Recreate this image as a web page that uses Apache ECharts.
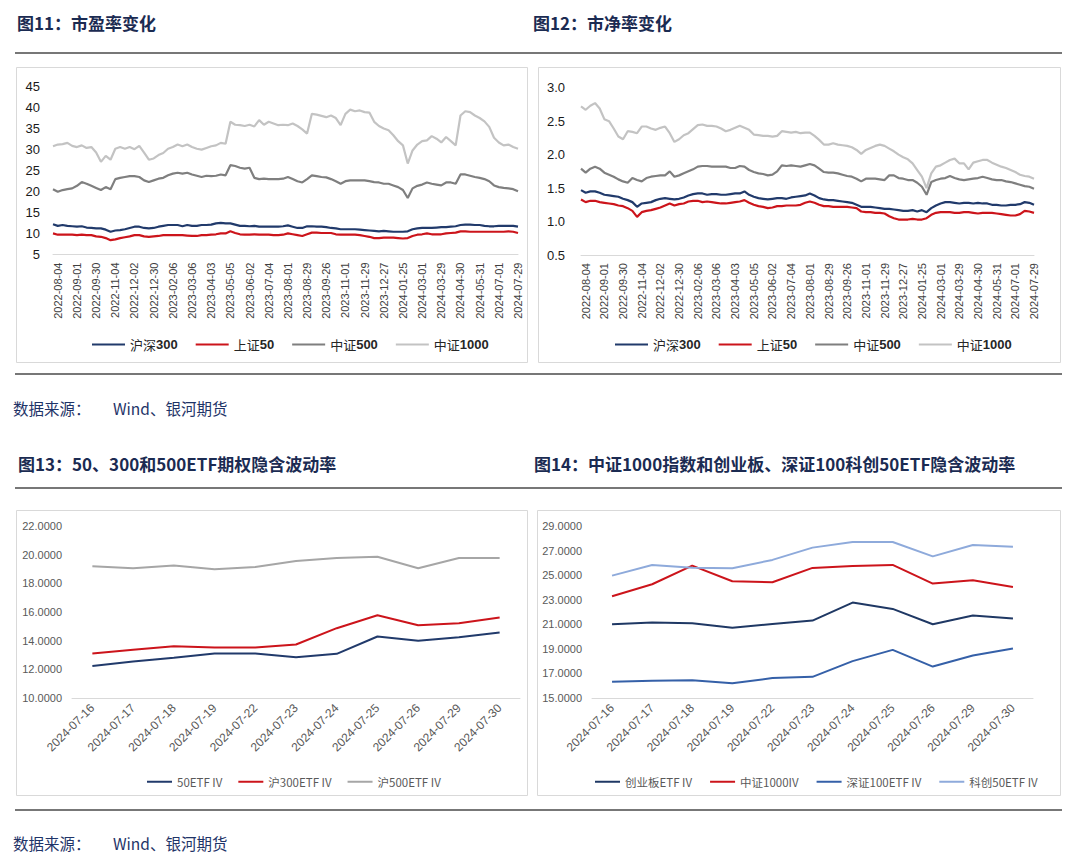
<!DOCTYPE html>
<html><head><meta charset="utf-8">
<script src="https://cdn.jsdelivr.net/npm/echarts/dist/echarts.min.js"></script>
<style>html,body{margin:0;padding:0;background:#fff}#c{width:1080px;height:855px}</style>
</head><body><div id="c"></div>
<script>
// ---------- data: PE / PB (sampled every 5 trading days) ----------
const dateLabels = ['2022-08-04','2022-09-01','2022-09-30','2022-11-04','2022-12-02','2022-12-30','2023-02-06','2023-03-06','2023-04-03','2023-05-05','2023-06-02','2023-07-04','2023-08-01','2023-08-29','2023-09-26','2023-11-01','2023-11-29','2023-12-27','2024-01-25','2024-03-01','2024-03-29','2024-04-30','2024-05-31','2024-07-01','2024-07-29'];

const peHS300 = [12.2,11.8,12.0,11.8,11.7,11.6,11.7,11.4,11.3,11.2, 11.2,10.9,10.4,10.7,10.8,11.0,11.3,11.6,11.6,11.3, 11.2,11.3,11.6,11.8,12.0,12.0,12.0,11.7,12.0,11.8, 11.8,12.0,12.0,12.1,12.4,12.5,12.4,12.4,12.1,11.8, 11.8,11.7,11.8,11.6,11.6,11.6,11.6,11.6,11.7,11.9, 11.6,11.3,11.3,11.7,11.7,11.6,11.6,11.5,11.3,11.2, 11.0,11.0,11.0,11.0,10.9,10.8,10.7,10.6,10.5,10.6, 10.5,10.4,10.4,10.4,10.5,11.0,11.2,11.3,11.3,11.3, 11.4,11.5,11.5,11.6,11.7,12.0,12.1,12.1,12.0,12.0, 11.8,11.7,11.7,11.8,11.8,11.8,11.8,11.6];
const peSZ50 = [10.0,9.7,9.7,9.7,9.7,9.6,9.7,9.6,9.6,9.3, 9.2,8.9,8.4,8.6,8.9,9.1,9.3,9.6,9.6,9.3, 9.2,9.3,9.4,9.6,9.6,9.6,9.6,9.6,9.5,9.4, 9.4,9.6,9.6,9.7,9.8,10.0,10.0,10.5,10.1,9.8, 9.7,9.7,9.8,9.7,9.7,9.7,9.6,9.6,9.7,10.0, 9.8,9.6,9.4,9.8,10.2,10.2,10.1,10.1,10.1,9.8, 9.7,9.7,9.7,9.7,9.6,9.4,9.2,8.9,8.9,9.0, 9.0,9.0,8.9,8.8,8.9,9.4,9.7,9.8,10.0,9.8, 9.8,9.8,10.0,10.1,10.2,10.5,10.5,10.4,10.4,10.4, 10.4,10.4,10.4,10.4,10.4,10.5,10.4,10.1];
const peZZ500 = [20.5,19.9,20.3,20.5,20.7,21.3,22.2,21.8,21.3,20.8, 20.3,21.0,20.5,22.9,23.2,23.4,23.6,23.6,23.4,22.6, 22.2,22.6,23.0,23.2,23.8,24.2,24.4,24.2,24.4,24.0, 23.7,23.4,23.7,23.6,23.7,24.0,23.8,26.2,26.0,25.6, 25.4,25.6,23.2,22.9,23.0,22.9,22.9,22.9,23.0,23.4, 22.9,22.4,22.1,22.9,23.8,23.6,23.4,23.3,22.9,22.4, 21.8,22.4,22.6,22.6,22.6,22.6,22.4,22.2,22.1,21.8, 21.8,21.4,21.0,20.3,18.4,20.7,21.3,21.6,22.1,21.8, 21.6,21.4,22.1,22.1,21.8,24.0,24.0,23.7,23.4,23.2, 22.9,22.4,21.4,21.0,20.8,20.7,20.5,20.0];
const peZZ1000 = [30.7,31.1,31.2,31.5,30.8,30.5,30.9,30.3,30.5,29.2, 27.0,28.4,27.5,30.1,30.5,30.1,30.5,30.0,30.8,29.2, 27.5,27.8,28.6,29.1,30.1,30.5,31.1,30.7,31.1,30.5, 30.1,29.9,30.3,30.7,30.9,31.5,31.3,36.5,35.8,35.7, 35.5,35.8,35.4,36.9,35.8,36.5,36.1,35.7,35.8,35.7, 36.1,35.5,34.7,33.7,38.4,38.2,37.9,37.6,38.0,37.4, 35.7,38.4,39.4,39.0,39.2,38.8,38.7,36.5,35.5,34.9, 34.5,33.3,31.9,30.9,26.6,29.7,31.1,31.9,32.1,33.1, 32.5,31.6,32.9,31.9,30.9,38.0,39.0,38.8,38.0,37.4, 36.6,35.3,32.7,31.6,30.9,31.1,30.5,30.1];

const pbHS300 = [1.47,1.43,1.45,1.45,1.43,1.40,1.39,1.38,1.37,1.34, 1.32,1.29,1.22,1.27,1.28,1.29,1.32,1.34,1.35,1.34, 1.33,1.34,1.36,1.39,1.41,1.42,1.42,1.40,1.41,1.41, 1.40,1.40,1.41,1.42,1.42,1.45,1.40,1.37,1.35,1.34, 1.33,1.34,1.35,1.35,1.34,1.36,1.37,1.38,1.39,1.42, 1.39,1.35,1.33,1.32,1.32,1.31,1.30,1.29,1.28,1.25, 1.22,1.22,1.22,1.21,1.20,1.19,1.19,1.18,1.17,1.16, 1.16,1.17,1.15,1.17,1.14,1.20,1.24,1.27,1.29,1.29, 1.28,1.27,1.28,1.28,1.27,1.28,1.27,1.27,1.25,1.25, 1.24,1.24,1.25,1.25,1.26,1.29,1.28,1.25];
const pbSZ50 = [1.33,1.29,1.31,1.31,1.29,1.28,1.27,1.26,1.24,1.23, 1.20,1.16,1.07,1.14,1.16,1.17,1.19,1.21,1.24,1.27, 1.24,1.26,1.27,1.30,1.31,1.31,1.29,1.30,1.29,1.28, 1.27,1.27,1.28,1.29,1.30,1.32,1.28,1.25,1.23,1.22, 1.20,1.21,1.23,1.23,1.24,1.24,1.24,1.25,1.28,1.30, 1.28,1.25,1.23,1.23,1.22,1.22,1.22,1.22,1.21,1.20, 1.15,1.14,1.14,1.13,1.13,1.12,1.08,1.05,1.03,1.03, 1.03,1.04,1.03,1.03,1.05,1.10,1.13,1.14,1.14,1.14, 1.13,1.13,1.14,1.14,1.13,1.12,1.13,1.13,1.13,1.12, 1.11,1.10,1.09,1.09,1.11,1.16,1.15,1.13];
const pbZZ500 = [1.79,1.73,1.79,1.82,1.79,1.73,1.70,1.67,1.63,1.60, 1.58,1.65,1.62,1.60,1.65,1.67,1.68,1.69,1.69,1.75, 1.67,1.69,1.72,1.75,1.78,1.82,1.83,1.83,1.82,1.82, 1.82,1.82,1.80,1.80,1.83,1.82,1.77,1.74,1.72,1.71, 1.69,1.70,1.75,1.84,1.83,1.84,1.83,1.82,1.84,1.86, 1.84,1.79,1.74,1.73,1.73,1.72,1.70,1.68,1.67,1.64, 1.60,1.64,1.64,1.64,1.63,1.62,1.69,1.69,1.65,1.64, 1.62,1.62,1.58,1.52,1.40,1.59,1.62,1.64,1.65,1.68, 1.65,1.63,1.62,1.63,1.64,1.65,1.67,1.65,1.63,1.62, 1.62,1.60,1.59,1.57,1.55,1.53,1.52,1.49];
const pbZZ1000 = [2.72,2.67,2.73,2.77,2.69,2.53,2.50,2.39,2.27,2.23, 2.35,2.34,2.32,2.42,2.42,2.39,2.37,2.40,2.42,2.32, 2.19,2.23,2.29,2.32,2.38,2.44,2.45,2.43,2.43,2.42, 2.39,2.35,2.37,2.40,2.43,2.40,2.37,2.30,2.29,2.28, 2.28,2.27,2.28,2.35,2.34,2.33,2.34,2.32,2.33,2.33, 2.28,2.22,2.15,2.15,2.17,2.15,2.14,2.13,2.11,2.07, 2.01,2.07,2.10,2.13,2.15,2.13,2.09,2.05,2.00,1.96, 1.93,1.87,1.77,1.67,1.50,1.72,1.82,1.84,1.88,1.92, 1.94,1.87,1.87,1.78,1.88,1.90,1.92,1.92,1.88,1.85, 1.82,1.80,1.77,1.74,1.70,1.68,1.67,1.64];

// ---------- data: implied volatility ----------
const ivDates = ['2024-07-16','2024-07-17','2024-07-18','2024-07-19','2024-07-22','2024-07-23','2024-07-24','2024-07-25','2024-07-26','2024-07-29','2024-07-30'];
const iv50ETF = [12.24,12.54,12.80,13.10,13.10,12.85,13.08,14.29,14.00,14.24,14.57];
const iv300ETF = [13.10,13.36,13.61,13.52,13.52,13.73,14.87,15.77,15.08,15.22,15.61];
const iv500ETF = [19.19,19.05,19.24,18.98,19.14,19.56,19.77,19.86,19.05,19.77,19.77];
const ivCYB = [21.00,21.14,21.09,20.71,21.03,21.30,22.77,22.25,21.00,21.71,21.47];
const ivZZ1000 = [23.28,24.26,25.78,24.50,24.42,25.59,25.75,25.83,24.31,24.58,24.04];
const ivSZ100 = [16.32,16.40,16.45,16.21,16.62,16.72,18.00,18.92,17.56,18.46,19.03];
const ivKC50 = [24.96,25.83,25.61,25.56,26.24,27.24,27.70,27.70,26.53,27.46,27.32];

// categories for the daily-like axes: a labelled point every 4 samples
const SUB = 4;
const N = (dateLabels.length - 1) * SUB + 2;
const cats = [];
for (let i = 0; i < N; i++) {
  cats.push(((i - 1) % SUB === 0) ? dateLabels[(i - 1) / SUB] : 'p' + i);
}
const isLabel = (idx) => (idx - 1) % SUB === 0 && idx >= 1;

const FONT = "'Liberation Sans','Noto Sans CJK SC',sans-serif";
const CJK = "'Noto Sans CJK SC','Liberation Sans',sans-serif";
const C = {navy:'#213a6b', red:'#cc141b', dgray:'#7f7f7f', lgray:'#c3c3c3',
           gray3:'#a6a6a6', blue:'#3560a8', lblue:'#8eaadb', dnavy:'#1f3864'};

const chart = echarts.init(document.getElementById('c'), null, {renderer:'svg'});

function dailyX(gi){
  return {type:'category', gridIndex:gi, data:cats, boundaryGap:false,
    axisTick:{show:false}, axisLine:{lineStyle:{color:'#d9d9d9', width:1}},
    axisLabel:{interval:(i)=>isLabel(i), rotate:90, margin:8, fontSize:11, color:'#404040', fontFamily:FONT}};
}
function ivX(gi){
  return {type:'category', gridIndex:gi, data:ivDates, boundaryGap:true,
    axisTick:{show:false}, axisLine:{lineStyle:{color:'#d9d9d9', width:1}},
    axisLabel:{interval:0, rotate:45, margin:8, fontSize:12, color:'#595959', fontFamily:FONT}};
}
function line(name, data, color, xi, w){
  return {name, type:'line', data, xAxisIndex:xi, yAxisIndex:xi, symbol:'none',
    lineStyle:{color, width:w}, itemStyle:{color}, animation:false};
}
const legendRich = {
  a:{fontFamily:CJK, fontSize:13, color:'#262626', fontWeight:'normal'},
  b:{fontFamily:FONT, fontSize:13, color:'#262626', fontWeight:'bold'}
};
const legFmt = (name) => {
  const m = name.match(/^([^0-9]*)([0-9]*)$/);
  return '{a|' + m[1] + '}{b|' + m[2] + '}';
};
function legTop(left, names){
  return {left, top:333, data:names, icon:'rect', itemWidth:33, itemHeight:2, itemGap:18,
    formatter:legFmt, textStyle:{rich:legendRich}};
}
function legBot(left, names, gap){
  return {left, top:771, data:names, icon:'rect', itemWidth:25, itemHeight:2, itemGap:gap,
    textStyle:{fontSize:11.5, color:'#595959', fontFamily:CJK}};
}

const lineY = [53, 374, 488, 810];
const graphics = [];
lineY.forEach(y => graphics.push({type:'line', shape:{x1:15, y1:y, x2:1062, y2:y},
  style:{stroke:'#4a4a4a', lineWidth:1.5}, silent:true}));
[[16.5,67.5,511,295],[538.5,67.5,522,295],[16.5,510.5,511,285],[537.5,510.5,523,285]].forEach(r =>
  graphics.push({type:'rect', shape:{x:r[0], y:r[1], width:r[2], height:r[3]},
    style:{fill:'none', stroke:'#d9d9d9', lineWidth:1}, silent:true}));
const titles = [
  ['图11：市盈率变化', 17, 22], ['图12：市净率变化', 533, 22],
  ['图13：50、300和500ETF期权隐含波动率', 18, 463], ['图14：中证1000指数和创业板、深证100科创50ETF隐含波动率', 534, 463]
];
titles.forEach(t => graphics.push({type:'text', x:t[1], y:t[2],
  style:{text:t[0], fontSize:17, fontWeight:'bold', fontFamily:CJK, fill:'#1b2b52', verticalAlign:'middle'}}));
[[13,408],[13,843]].forEach(p => {
  graphics.push({type:'text', x:p[0], y:p[1],
    style:{text:'数据来源：', fontSize:15.5, fontFamily:CJK, fill:'#1f3468', verticalAlign:'middle'}});
  graphics.push({type:'text', x:p[0] + 100, y:p[1],
    style:{text:'Wind、银河期货', fontSize:15.5, fontFamily:CJK, fill:'#1f3468', verticalAlign:'middle'}});
});

chart.setOption({
  animation:false,
  backgroundColor:'#fff',
  grid:[
    {left:53, top:86, width:465, height:168.5},
    {left:581, top:87.7, width:453, height:167.3},
    {left:72, top:526, width:448, height:172},
    {left:592, top:526, width:441, height:172}
  ],
  xAxis:[dailyX(0), dailyX(1), ivX(2), ivX(3)],
  yAxis:[
    {type:'value', gridIndex:0, min:5, max:45, interval:5, splitLine:{show:false}, axisLine:{show:false}, axisTick:{show:false},
      axisLabel:{margin:13, fontSize:13, color:'#1a1a1a', fontFamily:FONT}},
    {type:'value', gridIndex:1, min:0.5, max:3.0, interval:0.5, splitLine:{show:false}, axisLine:{show:false}, axisTick:{show:false},
      axisLabel:{margin:16, fontSize:13, color:'#1a1a1a', fontFamily:FONT, formatter:v=>v.toFixed(1)}},
    {type:'value', gridIndex:2, min:10, max:22, interval:2, splitLine:{show:false}, axisLine:{show:false}, axisTick:{show:false},
      axisLabel:{margin:10, fontSize:11, color:'#595959', fontFamily:FONT, formatter:v=>v.toFixed(4)}},
    {type:'value', gridIndex:3, min:15, max:29, interval:2, splitLine:{show:false}, axisLine:{show:false}, axisTick:{show:false},
      axisLabel:{margin:10, fontSize:11, color:'#595959', fontFamily:FONT, formatter:v=>v.toFixed(4)}}
  ],
  legend:[
    legTop(87, ['沪深300','上证50','中证500','中证1000']),
    legTop(610, ['沪深300','上证50','中证500','中证1000']),
    legBot(142, ['50ETF IV','沪300ETF IV','沪500ETF IV'], 16),
    legBot(590, ['创业板ETF IV','中证1000IV','深证100ETF IV','科创50ETF IV'], 18)
  ],
  graphic:graphics,
  series:[
    line('中证1000', peZZ1000, C.lgray, 0, 2.2),
    line('中证500', peZZ500, C.dgray, 0, 2.2),
    line('沪深300', peHS300, C.navy, 0, 2.2),
    line('上证50', peSZ50, C.red, 0, 2.2),
    line('中证1000', pbZZ1000, C.lgray, 1, 2.2),
    line('中证500', pbZZ500, C.dgray, 1, 2.2),
    line('沪深300', pbHS300, C.navy, 1, 2.2),
    line('上证50', pbSZ50, C.red, 1, 2.2),
    line('50ETF IV', iv50ETF, C.navy, 2, 2),
    line('沪300ETF IV', iv300ETF, C.red, 2, 2),
    line('沪500ETF IV', iv500ETF, C.gray3, 2, 2),
    line('创业板ETF IV', ivCYB, C.dnavy, 3, 2),
    line('中证1000IV', ivZZ1000, C.red, 3, 2),
    line('深证100ETF IV', ivSZ100, C.blue, 3, 2),
    line('科创50ETF IV', ivKC50, C.lblue, 3, 2)
  ]
});
</script></body></html>
